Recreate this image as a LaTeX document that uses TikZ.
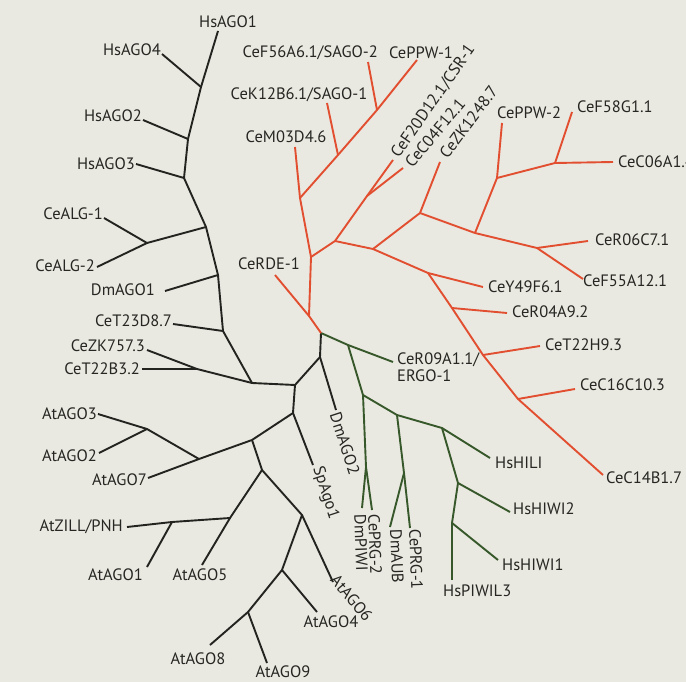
\documentclass[tikz,border=0pt]{standalone}
\usepackage{fontspec}
\setmainfont{PT Sans}
\usetikzlibrary{positioning}
\definecolor{paper}{RGB}{234,233,225}
\definecolor{inkgray}{RGB}{38,38,34}
\definecolor{argogray}{RGB}{35,35,32}
\definecolor{rdered}{RGB}{226,78,48}
\definecolor{piwigreen}{RGB}{55,88,42}

\begin{document}
\begin{tikzpicture}[
  x=1pt, y=-1pt,
  font=\fontsize{16.5}{17}\selectfont,
  lbl/.style={text=inkgray, inner sep=0pt},
  argo/.style={draw=argogray, line width=1.9pt, line join=round},
  rde/.style={draw=rdered, line width=1.9pt, line join=round},
  piwi/.style={draw=piwigreen, line width=1.9pt, line join=round}]

\fill[paper] (0,0) rectangle (686,682);
\useasboundingbox (0,0) rectangle (686,682);

% AGO clade (black)
\coordinate (hs1) at (218,31);
\coordinate (hs4) at (162,54);
\coordinate (nA1) at (201,87);
\coordinate (hs2) at (143,120);
\coordinate (nA2) at (188,139);
\coordinate (hs3) at (136,164);
\coordinate (nA3) at (184,178);
\coordinate (nA4) at (206,227);
\coordinate (alg) at (147,243);
\coordinate (alg1) at (104,218);
\coordinate (alg2) at (97,267);
\coordinate (nA5) at (218,275);
\coordinate (dm1) at (165,291);
\coordinate (nA6) at (223,331);
\coordinate (t23) at (173,324);
\coordinate (nB) at (252,383);
\coordinate (nC) at (197,369);
\coordinate (zk757) at (147,350);
\coordinate (t22b) at (142,369);
\coordinate (root) at (295,385);
\coordinate (nE) at (320,357);
\coordinate (dm2) at (336,410);
\coordinate (nF) at (321,333);
\coordinate (nG) at (293,413);
\coordinate (sp) at (313,465);
\coordinate (nH) at (252,440);
\coordinate (nI) at (199,459);
\coordinate (at7) at (148,478);
\coordinate (nJ) at (147,429);
\coordinate (at3) at (98,414);
\coordinate (at2) at (99,453);
\coordinate (nK) at (262,470);
\coordinate (nL) at (230,518);
\coordinate (nM) at (172,522);
\coordinate (zill) at (127,527);
\coordinate (at1) at (147,567);
\coordinate (at5) at (202,565);
\coordinate (nN) at (302,515);
\coordinate (at6) at (333,582);
\coordinate (nO) at (282,570);
\coordinate (at4) at (317,612);
\coordinate (nP) at (248,612);
\coordinate (at8) at (210,645);
\coordinate (at9) at (267,663);

\draw[argo] (hs1) -- (nA1) -- (nA2) -- (nA3) -- (nA4) -- (nA5) -- (nA6) -- (nB) -- (root) -- (nE) -- (nF);
\draw[argo] (hs4) -- (nA1);
\draw[argo] (hs2) -- (nA2);
\draw[argo] (hs3) -- (nA3);
\draw[argo] (nA4) -- (alg);
\draw[argo] (alg1) -- (alg) -- (alg2);
\draw[argo] (dm1) -- (nA5);
\draw[argo] (t23) -- (nA6);
\draw[argo] (zk757) -- (nC) -- (nB);
\draw[argo] (t22b) -- (nC);
\draw[argo] (nE) -- (dm2);
\draw[argo] (root) -- (nG) -- (sp);
\draw[argo] (nG) -- (nH) -- (nI) -- (at7);
\draw[argo] (nI) -- (nJ) -- (at3);
\draw[argo] (nJ) -- (at2);
\draw[argo] (nH) -- (nK) -- (nL) -- (nM) -- (zill);
\draw[argo] (nM) -- (at1);
\draw[argo] (nL) -- (at5);
\draw[argo] (nK) -- (nN) -- (at6);
\draw[argo] (nN) -- (nO) -- (at4);
\draw[argo] (nO) -- (nP) -- (at8);
\draw[argo] (nP) -- (at9);

% PIWI clade (green)
\coordinate (nQ) at (348,345);
\coordinate (ergo) at (393,362);
\coordinate (nR) at (363,395);
\coordinate (nS) at (397,415);
\coordinate (nT) at (442,428);
\coordinate (hili) at (490,458);
\coordinate (nU) at (366,467);
\coordinate (dmpiwi) at (362,508);
\coordinate (prg2) at (372,510);
\coordinate (nV) at (404,473);
\coordinate (aub) at (390,527);
\coordinate (prg1) at (410,528);
\coordinate (nW) at (458,483);
\coordinate (hiwi2) at (510,512);
\coordinate (nX) at (452,523);
\coordinate (hiwi1) at (498,560);
\coordinate (piwil3) at (452,580);

\draw[piwi] (nF) -- (nQ) -- (ergo);
\draw[piwi] (nQ) -- (nR) -- (nS) -- (nT) -- (hili);
\draw[piwi] (nR) -- (nU) -- (dmpiwi);
\draw[piwi] (nU) -- (prg2);
\draw[piwi] (nS) -- (nV) -- (aub);
\draw[piwi] (nV) -- (prg1);
\draw[piwi] (nT) -- (nW) -- (hiwi2);
\draw[piwi] (nW) -- (nX) -- (hiwi1);
\draw[piwi] (nX) -- (piwil3);

% RDE-1 clade (red)
\coordinate (nY) at (309,316);
\coordinate (rde1) at (275,275);
\coordinate (nZ) at (311,257);
\coordinate (nAA) at (300,198);
\coordinate (m03) at (295,147);
\coordinate (k12n) at (338,155);
\coordinate (k12) at (327,103);
\coordinate (f56n) at (377,110);
\coordinate (f56) at (368,62);
\coordinate (ppw1) at (417,60);
\coordinate (nAB) at (335,241);
\coordinate (nAC) at (367,196);
\coordinate (f20) at (393,160);
\coordinate (c04) at (403,168);
\coordinate (nAD) at (373,249);
\coordinate (nAE) at (420,213);
\coordinate (zk1248) at (440,162);
\coordinate (nAF) at (475,233);
\coordinate (nAG) at (497,178);
\coordinate (ppw2) at (502,123);
\coordinate (nAH) at (555,163);
\coordinate (f58) at (572,112);
\coordinate (c06) at (613,162);
\coordinate (nAI) at (537,248);
\coordinate (r06) at (588,241);
\coordinate (f55) at (583,279);
\coordinate (nAJ) at (428,273);
\coordinate (y49) at (483,287);
\coordinate (nAK) at (452,308);
\coordinate (r04) at (507,313);
\coordinate (nAL) at (483,355);
\coordinate (t22h) at (540,346);
\coordinate (nAM) at (518,399);
\coordinate (c16) at (575,389);
\coordinate (c14) at (603,475);

\draw[rde] (nF) -- (nY) -- (rde1);
\draw[rde] (nY) -- (nZ) -- (nAA) -- (m03);
\draw[rde] (nAA) -- (k12n) -- (f56n) -- (ppw1);
\draw[rde] (k12n) -- (k12);
\draw[rde] (f56n) -- (f56);
\draw[rde] (nZ) -- (nAB) -- (nAC) -- (f20);
\draw[rde] (nAC) -- (c04);
\draw[rde] (nAB) -- (nAD) -- (nAE) -- (zk1248);
\draw[rde] (nAE) -- (nAF) -- (nAG) -- (ppw2);
\draw[rde] (nAG) -- (nAH) -- (f58);
\draw[rde] (nAH) -- (c06);
\draw[rde] (nAF) -- (nAI) -- (r06);
\draw[rde] (nAI) -- (f55);
\draw[rde] (nAD) -- (nAJ) -- (y49);
\draw[rde] (nAJ) -- (nAK) -- (nAL) -- (nAM) -- (c14);
\draw[rde] (nAK) -- (r04);
\draw[rde] (nAL) -- (t22h);
\draw[rde] (nAM) -- (c16);

% labels
\node[lbl] (l-hs1) at (228,22) {HsAGO1};
\node[lbl, anchor=east] (l-hs4) at (161,50) {HsAGO4};
\node[lbl, anchor=east] (l-hs2) at (142,116) {HsAGO2};
\node[lbl, anchor=east] (l-hs3) at (135,164) {HsAGO3};
\node[lbl, anchor=east] (l-alg1) at (103,214) {CeALG-1};
\node[lbl, anchor=east] (l-alg2) at (95,266) {CeALG-2};
\node[lbl, anchor=east] (l-dm1) at (155,290) {DmAGO1};
\node[lbl, anchor=east] (l-t23) at (172,321) {CeT23D8.7};
\node[lbl, anchor=east] (l-zk757) at (145,346) {CeZK757.3};
\node[lbl, anchor=east] (l-t22b) at (140,369) {CeT22B3.2};
\node[lbl, anchor=east] (l-at3) at (97,414) {AtAGO3};
\node[lbl, anchor=east] (l-at2) at (97,456) {AtAGO2};
\node[lbl, anchor=east] (l-at7) at (147,480) {AtAGO7};
\node[lbl, anchor=east] (l-zill) at (123,527) {AtZILL/PNH};
\node[lbl, anchor=east] (l-at1) at (143,575) {AtAGO1};
\node[lbl] (l-at5) at (200,575) {AtAGO5};
\node[lbl] (l-at4) at (331,622) {AtAGO4};
\node[lbl] (l-at8) at (198,659) {AtAGO8};
\node[lbl] (l-at9) at (283,672) {AtAGO9};
\node[lbl, anchor=west, rotate=-50] (l-at6) at (334,577) {AtAGO6};
\node[lbl, anchor=west, rotate=-72] (l-sp) at (317,467) {SpAgo1};
\node[lbl, anchor=west, rotate=-72] (l-dm2) at (335,413) {DmAGO2};

\node[lbl, anchor=north west, align=left] (l-ergo) at (397,353) {CeR09A1.1/\\ERGO-1};
\node[lbl, anchor=west] (l-hili) at (495,463) {HsHILI};
\node[lbl, anchor=west] (l-hiwi2) at (513,509) {HsHIWI2};
\node[lbl, anchor=west] (l-hiwi1) at (502,565) {HsHIWI1};
\node[lbl, anchor=west] (l-piwil3) at (443,591) {HsPIWIL3};
\node[lbl, anchor=west, rotate=-88] (l-dmpiwi) at (360,514) {DmPIWI};
\node[lbl, anchor=west, rotate=-88] (l-prg2) at (374,514) {CePRG-2};
\node[lbl, anchor=west, rotate=-88] (l-aub) at (396,529) {DmAUB};
\node[lbl, anchor=west, rotate=-88] (l-prg1) at (415,529) {CePRG-1};

\node[lbl, anchor=east] (l-rde1) at (300,264) {CeRDE-1};
\node[lbl] (l-m03) at (286,137) {CeM03D4.6};
\node[lbl] (l-k12) at (299,95) {CeK12B6.1/SAGO-1};
\node[lbl, anchor=east] (l-f56) at (378,53) {CeF56A6.1/SAGO-2};
\node[lbl] (l-ppw1) at (421,53) {CePPW-1};
\node[lbl, anchor=west, rotate=55] (l-f20) at (395,156) {CeF20D12.1/CSR-1};
\node[lbl, anchor=west, rotate=50] (l-c04) at (408,165) {CeC04F12.1};
\node[lbl, anchor=west, rotate=53] (l-zk1248) at (443,156) {CeZK1248.7};
\node[lbl, anchor=west] (l-ppw2) at (497,113) {CePPW-2};
\node[lbl, anchor=west] (l-f58) at (577,107) {CeF58G1.1};
\node[lbl, anchor=west] (l-c06) at (618,162) {CeC06A1.4};
\node[lbl, anchor=west] (l-r06) at (595,240) {CeR06C7.1};
\node[lbl, anchor=west] (l-f55) at (583,281) {CeF55A12.1};
\node[lbl, anchor=west] (l-y49) at (488,287) {CeY49F6.1};
\node[lbl, anchor=west] (l-r04) at (512,312) {CeR04A9.2};
\node[lbl, anchor=west] (l-t22h) at (545,345) {CeT22H9.3};
\node[lbl, anchor=west] (l-c16) at (580,385) {CeC16C10.3};
\node[lbl, anchor=west] (l-c14) at (606,478) {CeC14B1.7};
\end{tikzpicture}
\end{document}
